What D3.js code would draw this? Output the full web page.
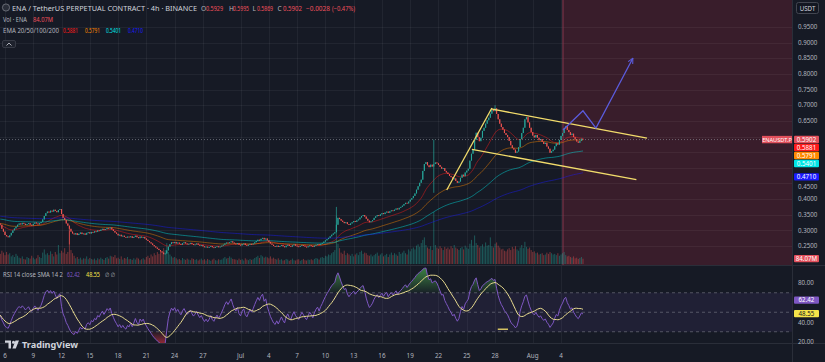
<!DOCTYPE html>
<html>
<head>
<meta charset="utf-8">
<script src="https://cdn.jsdelivr.net/npm/d3@7"></script>
<style>
  body { margin: 0; background: #161a25; }
  svg { display: block; font-family: "Noto Sans", "DejaVu Sans", sans-serif; }
</style>
</head>
<body>
<svg id="chart" width="825" height="362"></svg>
<script>
// ---- data (4h candles, ENA/USDT perp) ----
const firstOpen = 0.322;
const closes = [
  0.318, 0.305, 0.296, 0.285, 0.281, 0.278, 0.284,
  0.292, 0.300, 0.306, 0.312, 0.318, 0.322,
  0.319, 0.324, 0.321, 0.317, 0.320, 0.323, 0.318, 0.316, 0.321, 0.325, 0.322, 0.319, 0.323, 0.327,
  0.335, 0.346, 0.355, 0.360,
  0.357, 0.363, 0.360, 0.366, 0.362, 0.358, 0.365, 0.368,
  0.352, 0.340, 0.333, 0.322, 0.315, 0.305, 0.296, 0.290,
  0.287, 0.291, 0.285, 0.289, 0.293, 0.288, 0.290, 0.286, 0.292, 0.294, 0.290, 0.295,
  0.293, 0.297, 0.295, 0.300, 0.298, 0.302, 0.305, 0.301, 0.304, 0.308, 0.306,
  0.309, 0.303,
  0.298, 0.293, 0.289, 0.284, 0.286, 0.281, 0.283, 0.279, 0.277, 0.280, 0.278,
  0.281, 0.276, 0.279, 0.283, 0.278, 0.275, 0.280, 0.277, 0.279, 0.274,
  0.270, 0.266, 0.262, 0.258, 0.253, 0.249, 0.245, 0.241, 0.237, 0.233, 0.229,
  0.224, 0.226,
  0.236, 0.248, 0.256, 0.262, 0.259, 0.263,
  0.258, 0.261, 0.257, 0.254, 0.259, 0.262, 0.258, 0.255, 0.257, 0.260, 0.256, 0.253, 0.255, 0.258, 0.254, 0.251, 0.253,
  0.249, 0.246, 0.248, 0.245, 0.247, 0.250, 0.246, 0.244, 0.247, 0.249, 0.246, 0.248, 0.251,
  0.254, 0.258, 0.261, 0.259, 0.262, 0.265, 0.261, 0.258,
  0.256, 0.259, 0.254, 0.252, 0.256, 0.258, 0.253, 0.251, 0.254, 0.257, 0.255, 0.258, 0.262,
  0.266, 0.270, 0.268, 0.273, 0.276, 0.271, 0.274,
  0.268, 0.263, 0.258, 0.254, 0.250, 0.248, 0.251, 0.247,
  0.250, 0.253, 0.249, 0.246, 0.251, 0.254, 0.250, 0.248, 0.252, 0.255, 0.251, 0.249, 0.247, 0.250,
  0.253, 0.251, 0.248, 0.246, 0.249, 0.252, 0.250, 0.247, 0.251, 0.254, 0.256, 0.253, 0.257,
  0.260, 0.264, 0.268, 0.272, 0.276, 0.281, 0.286, 0.290, 0.294,
  0.318, 0.340,
  0.336, 0.331, 0.327, 0.323, 0.326, 0.320, 0.317,
  0.322, 0.326, 0.330, 0.327, 0.332, 0.335,
  0.341, 0.346, 0.349, 0.344,
  0.337, 0.331, 0.326, 0.329, 0.333,
  0.340, 0.345, 0.349, 0.346, 0.351,
  0.355, 0.352, 0.357, 0.360, 0.356, 0.361, 0.364,
  0.362, 0.366, 0.370, 0.367, 0.372, 0.375,
  0.379, 0.384, 0.388, 0.386, 0.392, 0.398, 0.403,
  0.410, 0.418, 0.430, 0.441, 0.452, 0.462,
  0.490, 0.512, 0.518,
  0.508, 0.502, 0.510, 0.504, 0.512,
  0.517, 0.514, 0.509,
  0.503, 0.497, 0.499, 0.490, 0.485, 0.480,
  0.474, 0.470, 0.463, 0.466, 0.458, 0.452, 0.456,
  0.468, 0.478, 0.473, 0.485, 0.491, 0.497,
  0.523, 0.545, 0.558, 0.589, 0.612,
  0.598, 0.585, 0.596,
  0.618, 0.628, 0.641, 0.652, 0.660,
  0.673, 0.685, 0.681, 0.690,
  0.672, 0.655, 0.641, 0.630,
  0.622, 0.611, 0.605, 0.598,
  0.586, 0.572, 0.563, 0.558,
  0.548, 0.552, 0.566,
  0.592, 0.611, 0.628,
  0.655, 0.662, 0.645,
  0.628, 0.614, 0.603,
  0.597, 0.605, 0.596, 0.588, 0.592,
  0.583, 0.576, 0.580, 0.568, 0.561,
  0.548, 0.553, 0.558,
  0.569, 0.578, 0.574, 0.589,
  0.602, 0.611, 0.626, 0.633, 0.621,
  0.614, 0.605, 0.609, 0.598,
  0.591, 0.584, 0.580, 0.586, 0.593, 0.5902
];

// volume in millions of ENA
const volumes = [
  160, 210, 180, 140, 190, 150, 170,
  120, 140, 110, 160, 130, 100,
  90, 120, 80, 70, 110, 95, 85, 130, 100, 75, 90, 140, 110, 95,
  180, 230, 150, 170,
  140, 200, 160, 120, 190, 150, 300, 170,
  210, 180, 250, 160, 190, 520, 220, 170,
  130, 90, 110, 80, 100, 70, 90, 85, 120, 75, 95, 80,
  70, 85, 60, 90, 75, 100, 80, 65, 95, 110, 85,
  130, 120,
  110, 140, 90, 100, 80, 120, 70, 95, 85, 110, 75,
  80, 65, 90, 70, 100, 85, 60, 75, 90, 70,
  110, 130, 95, 150, 120, 170, 140, 190, 160, 210, 180,
  250, 220,
  330, 190, 150, 120, 100, 110,
  90, 70, 80, 60, 95, 75, 65, 85, 70, 60, 90, 80, 65, 75, 55, 70, 85,
  60, 75, 55, 80, 65, 50, 70, 85, 60, 55, 75, 65, 70,
  90, 110, 85, 95, 120, 100, 80, 75,
  70, 60, 85, 65, 75, 55, 90, 70, 60, 80, 65, 75, 95,
  110, 130, 95, 140, 120, 100, 115,
  105, 90, 120, 85, 100, 80, 70, 90,
  65, 75, 55, 60, 80, 70, 50, 65, 85, 60, 55, 70, 75, 50,
  65, 80, 60, 55, 70, 65, 75, 60, 80, 95, 85, 70, 100,
  110, 95, 130, 120, 150, 140, 170, 190, 220,
  760, 320,
  250, 180, 160, 210, 140, 170, 150,
  130, 160, 120, 150, 170, 140,
  190, 210, 160, 180,
  170, 140, 130, 150, 120,
  140, 160, 180, 130, 150,
  170, 120, 140, 160, 110, 150, 180,
  140, 170, 150, 130, 190, 160,
  180, 210, 170, 150, 230, 200, 240,
  260, 230, 290, 310, 270, 330,
  380, 420, 300,
  260, 240, 280, 220, 820,
  300, 260, 240,
  280, 250, 220, 270, 240, 260,
  230, 280, 250, 300, 260, 240, 220,
  250, 270, 230, 290, 260, 240,
  320, 380, 290, 450, 330,
  300, 260, 280,
  310, 270, 340, 290, 300,
  420, 280, 260, 320,
  340, 290, 260, 230,
  240, 210, 200, 230,
  250, 220, 270, 240,
  280, 230, 210,
  260, 300, 250,
  350, 270, 240,
  260, 220, 190,
  200, 170, 180, 150, 160,
  170, 140, 150, 180, 160,
  190, 170, 150,
  160, 140, 170, 130,
  150, 170, 190, 140, 120,
  130, 110, 100, 120,
  90, 100, 80, 95, 110, 84.07
];

// candles with long wicks
const wickIdx  = [44, 214, 276, 315];
const wickHigh = [null, 0.375, 0.590, 0.700];
const wickLow  = [0.255, null, 0.420, null];

const emaPeriods = [20, 50, 100, 200];
const emaSeeds   = [0.315, 0.322, 0.336, 0.345];
const emaLast    = ["0.5881", "0.5791", "0.5401", "0.4710"];
const emaColors  = ["#ff1a1a", "#ff8a00", "#00e5e5", "#1a1aff"];

const rsiSeed = [0.0040, 0.0045];   // avg gain / avg loss before first bar
const rsiLast = 62.42, rsiSmaLast = 48.55;

const priceTicks = [0.25, 0.30, 0.35, 0.40, 0.45, 0.50, 0.55, 0.60, 0.65, 0.70, 0.75, 0.80, 0.85, 0.90, 0.95];
const rsiTicks = [20, 40, 60, 80];
const timeTicks = [
  ["2025-06-06", "6"], ["2025-06-09", "9"], ["2025-06-12", "12"], ["2025-06-15", "15"],
  ["2025-06-18", "18"], ["2025-06-21", "21"], ["2025-06-24", "24"], ["2025-06-27", "27"],
  ["2025-07-01", "Jul"], ["2025-07-04", "4"], ["2025-07-07", "7"], ["2025-07-10", "10"],
  ["2025-07-13", "13"], ["2025-07-16", "16"], ["2025-07-19", "19"], ["2025-07-22", "22"],
  ["2025-07-25", "25"], ["2025-07-28", "28"], ["2025-08-01", "Aug"], ["2025-08-04", "4"]
];

// drawings on the chart
const flagPole = [["2025-07-22T21:00", 0.429], ["2025-07-27T16:00", 0.691]];
const chanUpper = [["2025-07-27T14:00", 0.688], ["2025-08-13T03:00", 0.595]];
const chanLower = [["2025-07-25T13:00", 0.559], ["2025-08-12T00:00", 0.462]];
const projPath = [["2025-08-04T05:00", 0.621], ["2025-08-06T08:00", 0.682], ["2025-08-07T17:00", 0.627], ["2025-08-11T15:00", 0.850]];
const rsiMark = [["2025-07-28T07:00", 32.6], ["2025-07-29T09:00", 32.6]];
const zoneStart = "2025-08-04T05:00";

// ---- layout ----
const W = 825, H = 362, plotR = 792;
const priceBottom = 265, rsiTop = 266, rsiBottom = 343;

const svg = d3.select("#chart");
svg.append("rect").attr("width", W).attr("height", H).attr("fill", "#161a25");

const parse = s => new Date(s);
const t0 = new Date(2025, 5, 5, 12);
const times = closes.map((c, i) => new Date(+t0 + i * 4 * 3600e3));
const opens = closes.map((c, i) => i ? closes[i - 1] : firstOpen);
const highs = closes.map((c, i) => Math.max(c, opens[i]));
const lows = closes.map((c, i) => Math.min(c, opens[i]));
wickIdx.forEach((k, j) => {
  if (wickHigh[j] != null) highs[k] = wickHigh[j];
  if (wickLow[j] != null) lows[k] = wickLow[j];
});

const x = d3.scaleTime().domain([new Date(2025, 5, 6), new Date(2025, 7, 4)]).range([5, 561]);
const y = d3.scaleLinear().domain([0.25, 0.95]).range([246, 27]);
const yv = d3.scaleLinear().domain([0, d3.max(volumes)]).range([264, 212]);
const yr = d3.scaleLinear().domain([20, 80]).range([341.5, 283]);

const defs = svg.append("defs");
defs.append("clipPath").attr("id", "clipP").append("rect").attr("width", plotR).attr("height", priceBottom);
defs.append("clipPath").attr("id", "clipR").append("rect").attr("y", rsiTop).attr("width", plotR).attr("height", rsiBottom - rsiTop);
const gUp = defs.append("linearGradient").attr("id", "obFill").attr("x1", 0).attr("x2", 0).attr("y1", 0).attr("y2", 1);
gUp.append("stop").attr("offset", "0%").attr("stop-color", "#4caf50").attr("stop-opacity", 0.7);
gUp.append("stop").attr("offset", "100%").attr("stop-color", "#4caf50").attr("stop-opacity", 0.05);
const gDn = defs.append("linearGradient").attr("id", "osFill").attr("x1", 0).attr("x2", 0).attr("y1", 0).attr("y2", 1);
gDn.append("stop").attr("offset", "0%").attr("stop-color", "#f23645").attr("stop-opacity", 0.05);
gDn.append("stop").attr("offset", "100%").attr("stop-color", "#f23645").attr("stop-opacity", 0.7);

// ---- price pane ----
const pp = svg.append("g").attr("clip-path", "url(#clipP)");

// future zone
const zx = x(parse(zoneStart));
pp.append("rect").attr("x", zx).attr("y", 0).attr("width", plotR - zx).attr("height", priceBottom)
  .attr("fill", "#5c1f32").attr("opacity", 0.5);

// grid
const gridCol = "rgba(255,255,255,0.05)";
pp.selectAll(".hg").data(priceTicks).enter().append("line")
  .attr("x1", 0).attr("x2", plotR).attr("y1", d => Math.round(y(d)) + 0.5).attr("y2", d => Math.round(y(d)) + 0.5)
  .attr("stroke", gridCol);
svg.selectAll(".vg").data(timeTicks).enter().append("line")
  .attr("x1", d => Math.round(x(parse(d[0]))) + 0.5).attr("x2", d => Math.round(x(parse(d[0]))) + 0.5)
  .attr("y1", 0).attr("y2", rsiBottom).attr("stroke", gridCol);

pp.append("line").attr("x1", zx).attr("x2", zx).attr("y1", 0).attr("y2", priceBottom)
  .attr("stroke", "#8a3a50").attr("stroke-width", 1);

// volume
pp.append("g").selectAll("rect").data(volumes).enter().append("rect")
  .attr("x", (d, i) => x(times[i]) - 0.5)
  .attr("y", d => yv(d))
  .attr("width", 1)
  .attr("height", d => yv(0) - yv(d))
  .attr("fill", (d, i) => closes[i] >= opens[i] ? "rgba(38,166,154,0.45)" : "rgba(239,83,80,0.45)");

// EMAs
emaPeriods.forEach((p, j) => {
  const k = 2 / (p + 1);
  const vals = [];
  closes.forEach((c, i) => vals.push(i ? vals[i - 1] + k * (c - vals[i - 1]) : emaSeeds[j]));
  pp.append("path").datum(vals)
    .attr("fill", "none").attr("stroke", emaColors[j]).attr("stroke-opacity", 0.45).attr("stroke-width", 1)
    .attr("d", d3.line().x((d, i) => x(times[i])).y(d => y(d)));
});

// candles
const cg = pp.append("g");
closes.forEach((c, i) => {
  const col = c >= opens[i] ? "#26a69a" : "#ef5350";
  const cx = x(times[i]);
  cg.append("line").attr("x1", cx).attr("x2", cx).attr("y1", y(highs[i])).attr("y2", y(lows[i]))
    .attr("stroke", col).attr("stroke-width", 0.7);
  const top = y(Math.max(c, opens[i]));
  const h = Math.max(0.9, Math.abs(y(c) - y(opens[i])));
  cg.append("rect").attr("x", cx - 0.55).attr("y", top).attr("width", 1.1).attr("height", h).attr("fill", col);
});

// last price dotted line
const lastPrice = closes[closes.length - 1];
svg.append("line").attr("x1", 0).attr("x2", plotR).attr("y1", y(lastPrice)).attr("y2", y(lastPrice))
  .attr("stroke", "#9598a1").attr("stroke-opacity", 0.6).attr("stroke-dasharray", "1,2");

// drawings
const dline = d3.line().x(d => x(parse(d[0]))).y(d => y(d[1]));
[flagPole, chanUpper, chanLower].forEach(seg => {
  pp.append("path").datum(seg).attr("d", dline).attr("fill", "none")
    .attr("stroke", "#f2dc6b").attr("stroke-width", 1.3);
});
defs.append("marker").attr("id", "arr").attr("viewBox", "0 0 10 10").attr("refX", 9).attr("refY", 5)
  .attr("markerWidth", 5).attr("markerHeight", 5).attr("orient", "auto")
  .append("path").attr("d", "M1,1 L9,5 L1,9").attr("fill", "none").attr("stroke", "#5b5bdc").attr("stroke-width", 1.6);
pp.append("path").datum(projPath).attr("d", dline).attr("fill", "none")
  .attr("stroke", "#5b5bdc").attr("stroke-width", 1.3).attr("marker-end", "url(#arr)");

// ---- RSI pane ----
const rsi = [], sma = [];
let ag = rsiSeed[0], al = rsiSeed[1];
closes.forEach((c, i) => {
  if (i) {
    const ch = c - closes[i - 1];
    ag = (ag * 13 + Math.max(ch, 0)) / 14;
    al = (al * 13 + Math.max(-ch, 0)) / 14;
  }
  rsi.push(100 - 100 / (1 + ag / al));
  const win = rsi.slice(Math.max(0, i - 13));
  sma.push(d3.mean(win));
});

const rp = svg.append("g").attr("clip-path", "url(#clipR)");
rp.append("rect").attr("x", 0).attr("width", plotR).attr("y", yr(70)).attr("height", yr(30) - yr(70))
  .attr("fill", "rgba(126,87,194,0.10)");
[70, 50, 30].forEach(v => {
  rp.append("line").attr("x1", 0).attr("x2", plotR).attr("y1", yr(v)).attr("y2", yr(v))
    .attr("stroke", "#787b86").attr("stroke-opacity", 0.6).attr("stroke-dasharray", "3,3");
});
rp.append("path").datum(rsi).attr("fill", "url(#obFill)")
  .attr("d", d3.area().x((d, i) => x(times[i])).y0(yr(70)).y1(d => yr(Math.max(d, 70))));
rp.append("path").datum(rsi).attr("fill", "url(#osFill)")
  .attr("d", d3.area().x((d, i) => x(times[i])).y0(yr(30)).y1(d => yr(Math.min(d, 30))));
rp.append("path").datum(rsi).attr("fill", "none").attr("stroke", "#7e57c2").attr("stroke-width", 1)
  .attr("d", d3.line().x((d, i) => x(times[i])).y(d => yr(d)));
rp.append("path").datum(sma).attr("fill", "none").attr("stroke", "#e9dc8f").attr("stroke-width", 1)
  .attr("d", d3.line().x((d, i) => x(times[i])).y(d => yr(d)));
rp.append("path").datum(rsiMark).attr("fill", "none").attr("stroke", "#f2dc6b").attr("stroke-width", 1.3)
  .attr("d", d3.line().x(d => x(parse(d[0]))).y(d => yr(d[1])));

// ---- separators / axes ----
const sepCol = "#2a2e39";
svg.append("line").attr("x1", 0).attr("x2", W).attr("y1", priceBottom + 0.5).attr("y2", priceBottom + 0.5).attr("stroke", sepCol);
svg.append("line").attr("x1", 0).attr("x2", W).attr("y1", rsiBottom + 0.5).attr("y2", rsiBottom + 0.5).attr("stroke", sepCol);
svg.append("line").attr("x1", plotR + 0.5).attr("x2", plotR + 0.5).attr("y1", 0).attr("y2", H).attr("stroke", sepCol);

const axCol = "#b2b5be";
const boxH = 7.4;
function boxLabel(yc, txt, bg, fg) {
  svg.append("rect").attr("x", 794).attr("y", yc - boxH / 2).attr("width", 25).attr("height", boxH).attr("rx", 1).attr("fill", bg);
  svg.append("text").attr("x", 806.5).attr("y", yc + 2.2).attr("text-anchor", "middle")
    .attr("font-size", 6.2).attr("fill", fg).text(txt);
}

// price labels stacked like the platform does
const priceLabels = [
  { v: lastPrice, t: lastPrice.toFixed(4), bg: "#e2505c", fg: "#fff" }
].concat(emaLast.map((s, j) => ({ v: +s, t: s, bg: emaColors[j], fg: "#fff" })));
priceLabels.sort((a, b) => b.v - a.v);
let prevY = -99;
priceLabels.forEach(l => { l.y = Math.max(y(l.v), prevY + 8); prevY = l.y; });

const volY = Math.min(yv(volumes[volumes.length - 1]), priceBottom - 4.5);
const rsiLabels = [
  { y: yr(rsiLast), t: rsiLast.toFixed(2), bg: "#7e57c2", fg: "#fff" },
  { y: yr(rsiSmaLast), t: rsiSmaLast.toFixed(2), bg: "#f5e44a", fg: "#131722" }
];
const allLabelY = priceLabels.map(l => l.y).concat([volY], rsiLabels.map(l => l.y));

// tick text, pushed clear of any label box it would touch
function tickY(ty) {
  let out = ty;
  allLabelY.forEach(ly => {
    const d = out - ly;
    if (d > 0 && d < 9.5) out = ly + 9.5;
  });
  return out;
}
priceTicks.filter(v => allLabelY.every(ly => Math.abs(ly - y(v)) > 6)).forEach(v => {
  svg.append("text").attr("x", 798).attr("y", tickY(y(v)) + 2.2).attr("font-size", 6.2).attr("fill", axCol).text(v.toFixed(4));
});
rsiTicks.filter(v => allLabelY.every(ly => Math.abs(ly - yr(v)) > 6)).forEach(v => {
  svg.append("text").attr("x", 798).attr("y", tickY(yr(v)) + 2.2).attr("font-size", 6.2).attr("fill", axCol).text(v.toFixed(2));
});

priceLabels.forEach(l => boxLabel(l.y, l.t, l.bg, l.fg));
boxLabel(volY, "84.07M", "#e2505c", "#fff");
rsiLabels.forEach(l => boxLabel(l.y, l.t, l.bg, l.fg));

// symbol tag left of the axis
const ly0 = priceLabels.find(l => l.v === lastPrice).y;
svg.append("rect").attr("x", 762).attr("y", ly0 - boxH / 2).attr("width", 30).attr("height", boxH).attr("fill", "#e2505c");
svg.append("text").attr("x", 777).attr("y", ly0 + 2.1).attr("text-anchor", "middle").attr("font-size", 5.6)
  .attr("fill", "#fff").text("ENAUSDT.P");

// USDT badge
svg.append("rect").attr("x", 796.5).attr("y", 2.5).attr("width", 22).attr("height", 11).attr("rx", 2)
  .attr("fill", "#131722").attr("stroke", "#434651");
svg.append("text").attr("x", 807.5).attr("y", 10.5).attr("text-anchor", "middle").attr("font-size", 6.2)
  .attr("fill", "#d1d4dc").text("USDT");

// time axis
svg.selectAll(".tt").data(timeTicks).enter().append("text")
  .attr("x", d => x(parse(d[0]))).attr("y", 358).attr("text-anchor", "middle")
  .attr("font-size", 6.3).attr("fill", axCol).text(d => d[1]);

// ---- header legend ----
function txt(xp, yp, s, col, size, len) {
  const t = svg.append("text").attr("x", xp).attr("y", yp).attr("font-size", size).attr("fill", col).text(s);
  if (len) t.attr("textLength", len).attr("lengthAdjust", "spacingAndGlyphs");
  return t;
}
svg.append("circle").attr("cx", 6).attr("cy", 7.5).attr("r", 3.6).attr("fill", "#2a2e39").attr("stroke", "#9598a1").attr("stroke-width", 0.6);
txt(12, 10.5, "ENA / TetherUS PERPETUAL CONTRACT · 4h · BINANCE", "#d1d4dc", 7.2, 185);
const red = "#f0505c";
txt(201, 10.5, "O", "#b2b5be", 6.6); txt(206, 10.5, "0.5929", red, 6.6, 17);
txt(229, 10.5, "H", "#b2b5be", 6.6); txt(233, 10.5, "0.5995", red, 6.6, 16);
txt(252.5, 10.5, "L", "#b2b5be", 6.6); txt(257, 10.5, "0.5869", red, 6.6, 16);
txt(277.5, 10.5, "C", "#b2b5be", 6.6); txt(283, 10.5, "0.5902", red, 6.6, 19);
txt(306, 10.5, "−0.0028", red, 6.6, 24); txt(332, 10.5, "(−0.47%)", red, 6.6, 23);

txt(3, 21.5, "Vol · ENA", "#b2b5be", 6.2, 24);
txt(33, 21.5, "84.07M", red, 6.2, 20);

txt(3, 32.5, "EMA 20/50/100/200", "#b2b5be", 6.2, 56);
emaLast.forEach((s, j) => txt([63, 85, 106, 128][j], 32.5, s, emaColors[j], 6.2, 15));

// collapse button
svg.append("rect").attr("x", 2.5).attr("y", 40.5).attr("width", 13).attr("height", 7).attr("rx", 1.5)
  .attr("fill", "#1e222d").attr("stroke", "#363a45");
svg.append("path").attr("d", "M6.5,45.5 L9,43 L11.5,45.5").attr("fill", "none").attr("stroke", "#d1d4dc").attr("stroke-width", 0.8);

// RSI legend
txt(3, 276.5, "RSI 14 close SMA 14 2", "#b2b5be", 6.2, 60);
txt(67, 276.5, rsiLast.toFixed(2), "#7e57c2", 6.2, 13);
txt(86, 276.5, rsiSmaLast.toFixed(2), "#f5e44a", 6.2, 14);
txt(105, 276.5, "∅ ∅", "#b2b5be", 6.2, 10);

// watermark logo
const lg = svg.append("g").attr("transform", "translate(5,340.5)");
lg.append("path").attr("d", "M0,0 H6 V8 H3.5 V2.3 H0 Z").attr("fill", "#d1d4dc");
lg.append("circle").attr("cx", 8.5).attr("cy", 1.7).attr("r", 1.5).attr("fill", "#d1d4dc");
lg.append("path").attr("d", "M10.5,0 H14 L10.8,8 H7.4 Z").attr("fill", "#d1d4dc");
svg.append("text").attr("x", 22).attr("y", 348).attr("font-size", 9).attr("font-weight", "bold")
  .attr("fill", "#d1d4dc").attr("textLength", 56).attr("lengthAdjust", "spacingAndGlyphs").text("TradingView");
</script>
</body>
</html>
